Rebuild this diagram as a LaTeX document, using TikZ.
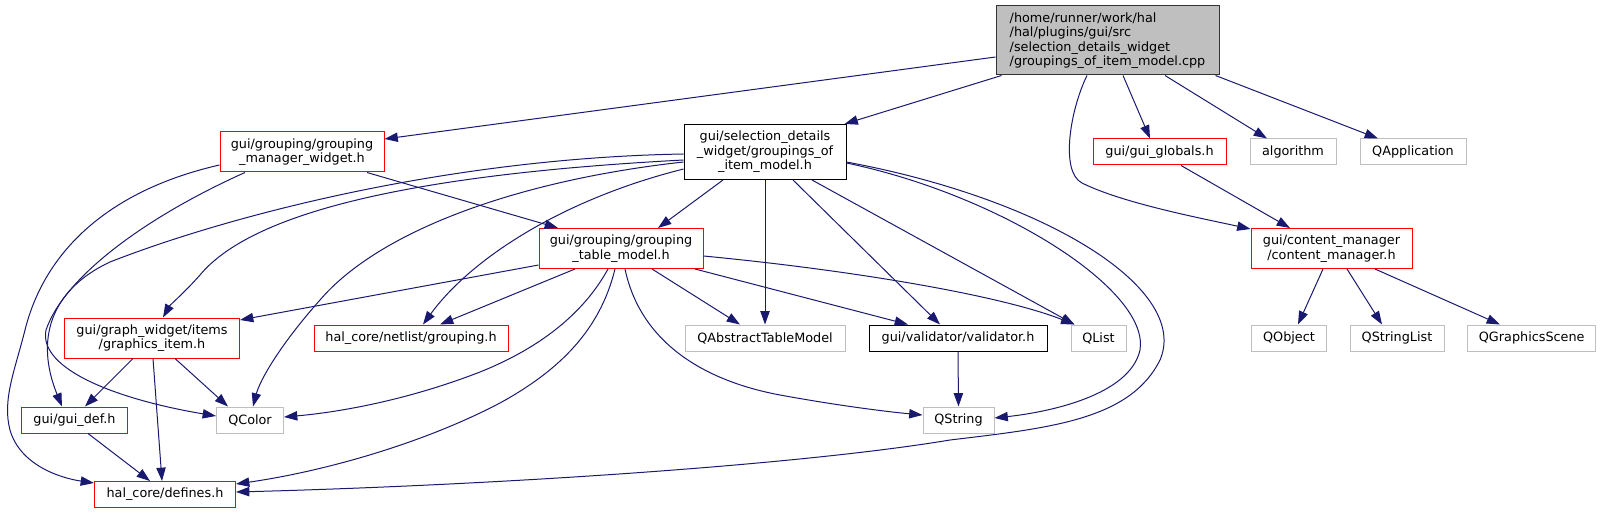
\documentclass[tikz,border=0pt]{standalone}
\usepackage{fontspec}
\setmainfont{DejaVu Sans}
\usepackage{tikz}
\usetikzlibrary{arrows.meta, positioning, calc}
\definecolor{cEdge}{RGB}{25,25,112}
\definecolor{cRed}{RGB}{255,0,0}
\definecolor{cGrey}{RGB}{191,191,191}
\tikzset{
	hdr/.style    ={rectangle, draw=black, line width=0.75pt, fill=white, align=center, inner sep=1pt, minimum height=19.5pt},
	hdrred/.style ={hdr, draw=cRed},
	hdrsys/.style ={hdr, draw=cGrey},
	hdrtall/.style={minimum height=30pt},
	hdrroot/.style={hdr, fill=cGrey, draw=black!80, align=left, minimum height=51.75pt},
	incl/.style   ={-{Triangle[length=10pt, width=7pt]}, draw=cEdge, line width=0.75pt},
}
\begin{document}
\begin{tikzpicture}[x=0.75pt, y=-0.75pt, font=\fontsize{9.6pt}{10.9pt}\selectfont]
	\useasboundingbox (0,0) rectangle (1601,513);
	\node[hdrroot, minimum width=167.25pt] (root) at (1107.5,40.5) {/home/runner/work/hal\\/hal/plugins/gui/src\\/selection\_details\_widget\\/groupings\_of\_item\_model.cpp};
	\node[hdrred, hdrtall, minimum width=123pt] (gmw) at (302,152) {gui/grouping/grouping\\\_manager\_widget.h};
	\node[hdr, minimum width=121.5pt, minimum height=41.25pt] (sdw) at (765,152) {gui/selection\_details\\\_widget/groupings\_of\\\_item\_model.h};
	\node[hdrred, minimum width=99.75pt] (gglob) at (1159.5,152) {gui/gui\_globals.h};
	\node[hdrsys, minimum width=64.5pt] (algo) at (1293,152) {algorithm};
	\node[hdrsys, minimum width=79.5pt] (qapp) at (1413,152) {QApplication};
	\node[hdrred, hdrtall, minimum width=123pt] (gtm) at (621,248.5) {gui/grouping/grouping\\\_table\_model.h};
	\node[hdrred, hdrtall, minimum width=120.75pt] (cman) at (1331.5,248.5) {gui/content\_manager\\/content\_manager.h};
	\node[hdrred, hdrtall, minimum width=131.25pt] (gitem) at (152,338) {gui/graph\_widget/items\\/graphics\_item.h};
	\node[hdrred, minimum width=145.5pt] (grp) at (411,338) {hal\_core/netlist/grouping.h};
	\node[hdrsys, minimum width=120pt] (qatm) at (765,338) {QAbstractTableModel};
	\node[hdr, minimum width=133.5pt] (valid) at (958,338) {gui/validator/validator.h};
	\node[hdrsys, minimum width=41.25pt] (qlist) at (1098.5,338) {QList};
	\node[hdrsys, minimum width=56.25pt] (qobj) at (1289,338) {QObject};
	\node[hdrsys, minimum width=70.5pt] (qsl) at (1397,338) {QStringList};
	\node[hdrsys, minimum width=96pt] (qgs) at (1531.7,338) {QGraphicsScene};
	\node[hdrred, minimum width=79.5pt] (guidef) at (74.5,420) {gui/gui\_def.h};
	\node[hdrsys, minimum width=50.25pt] (qcolor) at (250,420) {QColor};
	\node[hdrsys, minimum width=53.25pt] (qstring) at (958.5,420) {QString};
	\node[hdrred, minimum width=105.75pt] (defines) at (165,494.5) {hal\_core/defines.h};

	\draw[incl] ($(root.west)+(0,16.5)$) -- ($(gmw.east)+(0,-13)$); \draw[incl] ($(root.south west)+(6,0)$) -- ($(sdw.north east)+(-2,0)$);
	\draw[incl] ($(root.south)+(15.5,0)$) -- ($(gglob.north)+(-9.5,0)$); \draw[incl] ($(root.south)+(57.5,0)$) -- ($(algo.north)+(-26,0)$);
	\draw[incl] ($(root.south east)+(-4,0)$) -- ($(qapp.north)+(-35,0)$);
	\draw[incl] ($(root.south)+(-20.5,0)$) .. controls (1070,110) and (1060,172) .. (1082,183) .. controls (1122,203) and (1200,218) .. ($(cman.north west)+(0,1)$);
	\draw[incl] ($(gglob.south)+(21.5,0)$) -- ($(cman.north)+(-41.5,0)$);
	\draw[incl] ($(cman.south)+(-8.5,0)$) -- ($(qobj.north)+(9,0)$); \draw[incl] ($(cman.south)+(15.5,0)$) -- ($(qsl.north)+(-15,0)$);
	\draw[incl] ($(cman.south)+(43.5,0)$) -- ($(qgs.north)+(-31.7,0)$);

	\draw[incl] ($(gmw.south)+(65,0)$) -- ($(gtm.north)+(-63,0)$);
	\draw[incl] ($(gmw.west)+(0,13)$) .. controls (110,190) and (45,250) .. (25,330) .. controls (15,370) and (2,400) .. (10,430) .. controls (20,465) and (60,478) .. ($(defines.west)+(0,-11.5)$);
	\draw[incl] ($(gmw.south)+(-57,0)$) .. controls (150,215) and (65,275) .. (46,330) .. controls (38,370) and (120,400) .. ($(qcolor.west)+(0,-4)$);

	\draw[incl] ($(sdw.west)+(0,2)$) .. controls (450,158) and (230,215) .. (110,262) .. controls (50,290) and (35,340) .. ($(guidef.north)+(-12.5,0)$);
	\draw[incl] ($(sdw.west)+(0,8)$) .. controls (400,175) and (250,215) .. (200,275) .. controls (185,292) and (170,305) .. ($(gitem.north)+(11,0)$);
	\draw[incl] ($(sdw.west)+(0,10)$) .. controls (520,180) and (380,230) .. (320,300) .. controls (280,345) and (260,380) .. ($(qcolor.north)+(3,0)$);
	\draw[incl] ($(sdw.west)+(0,17)$) .. controls (560,200) and (470,260) .. ($(grp.north)+(12,0)$);
	\draw[incl] ($(sdw.south)+(-42,0)$) -- ($(gtm.north)+(37,0)$); \draw[incl] (sdw.south) -- (qatm.north);
	\draw[incl] ($(sdw.south)+(28,0)$) -- ($(valid.north)+(-18,0)$); \draw[incl] ($(sdw.south)+(47,0)$) -- ($(qlist.north west)+(4,0)$);
	\draw[incl] ($(sdw.east)+(0,11)$) .. controls (1000,195) and (1150,290) .. (1140,350) .. controls (1130,395) and (1050,412) .. ($(qstring.east)+(0,-2)$);
	\draw[incl] ($(sdw.east)+(0,10)$) .. controls (1050,200) and (1190,290) .. (1160,360) .. controls (1130,420) and (1050,428) .. (950,440) .. controls (800,465) and (500,485) .. ($(defines.east)+(0,-2.5)$);

	\draw[incl] ($(gtm.west)+(0,16.5)$) -- ($(gitem.east)+(0,-18)$); \draw[incl] ($(gtm.south)+(-46,0)$) -- ($(grp.north)+(29,0)$);
	\draw[incl] ($(gtm.south)+(-13,0)$) .. controls (580,320) and (530,352) .. (480,372) .. controls (400,403) and (330,413) .. ($(qcolor.east)+(0,-3)$);
	\draw[incl] ($(gtm.south)+(-6,0)$) .. controls (600,330) and (560,370) .. (500,403) .. controls (420,445) and (320,472) .. ($(defines.east)+(0,-10.5)$);
	\draw[incl] ($(gtm.south)+(4,0)$) .. controls (640,340) and (700,380) .. (780,395) .. controls (840,406) and (890,412) .. ($(qstring.west)+(0,-5)$);
	\draw[incl] ($(gtm.south)+(31,0)$) -- ($(qatm.north)+(-25,0)$); \draw[incl] ($(gtm.south)+(74,0)$) -- ($(valid.north)+(-50,0)$);
	\draw[incl] ($(gtm.east)+(0,7.5)$) .. controls (850,270) and (1000,295) .. ($(qlist.north west)+(4,0)$);

	\draw[incl] ($(gitem.south)+(-19,0)$) -- ($(guidef.north)+(10.5,0)$); \draw[incl] ($(gitem.south)+(1,0)$) -- ($(defines.north)+(-3,0)$);
	\draw[incl] ($(gitem.south)+(23,0)$) -- ($(qcolor.north)+(-22,0)$);
	\draw[incl] ($(guidef.south)+(13.5,0)$) -- ($(defines.north)+(-15,0)$); \draw[incl] (valid.south) -- (qstring.north);
\end{tikzpicture}
\end{document}
